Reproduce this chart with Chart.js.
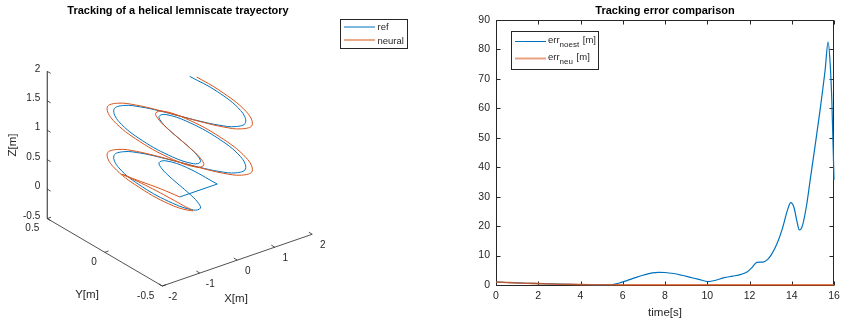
<!DOCTYPE html>
<html>
<head>
<meta charset="utf-8">
<script src="https://cdn.jsdelivr.net/npm/chart.js@4/dist/chart.umd.min.js"></script>
<style>
  html, body { margin: 0; padding: 0; background: #fff; }
  #wrap { position: relative; width: 841px; height: 325px; overflow: hidden; background: #fff; }
  #c3d { position: absolute; left: 0; top: 0; }
  #cerr { position: absolute; left: 420px; top: 0; }
</style>
</head>
<body>
<div id="wrap">
  <canvas id="c3d" width="420" height="325"></canvas>
  <canvas id="cerr" width="421" height="325"></canvas>
</div>
<script>
// ---------- 3-D trajectory samples (metres), one sample every 0.327 s ----------
// reference helical lemniscate (first entry is the origin the plot starts from)
const refX = [0,
  1, 0.905, 0.693, 0.471, 0.286, 0.134, 0, -0.134, -0.286, -0.471, -0.693, -0.905,
  -1, -0.905, -0.693, -0.471, -0.286, -0.134, 0, 0.134, 0.286, 0.471, 0.693, 0.905,
  1, 0.905, 0.693, 0.471, 0.286, 0.134, 0, -0.134, -0.286, -0.471, -0.693, -0.905,
  -1, -0.905, -0.693, -0.471, -0.286, -0.134, 0, 0.134, 0.286, 0.471, 0.693, 0.905,
  1, 0.923];
const refY = [0,
  0, 0.234, 0.346, 0.333, 0.247, 0.129, 0, -0.129, -0.247, -0.333, -0.346, -0.234,
  0, 0.234, 0.346, 0.333, 0.247, 0.129, 0, -0.129, -0.247, -0.333, -0.346, -0.234,
  0, 0.234, 0.346, 0.333, 0.247, 0.129, 0, -0.129, -0.247, -0.333, -0.346, -0.234,
  0, 0.234, 0.346, 0.333, 0.247, 0.129, 0, -0.129, -0.247, -0.333, -0.346, -0.234,
  0, 0.214];
const refZ = [0,
  0, 0.033, 0.065, 0.098, 0.131, 0.164, 0.196, 0.229, 0.262, 0.295, 0.327, 0.360,
  0.393, 0.425, 0.458, 0.491, 0.524, 0.556, 0.589, 0.622, 0.654, 0.687, 0.720, 0.753,
  0.785, 0.818, 0.851, 0.884, 0.916, 0.949, 0.982, 1.014, 1.047, 1.080, 1.113, 1.145,
  1.178, 1.211, 1.244, 1.276, 1.309, 1.342, 1.374, 1.407, 1.440, 1.473, 1.505, 1.538,
  1.571, 1.600];

// trajectory followed by the neural controller
const neuX = [0, -0.02, -0.06, -0.09, -0.10, -0.16, -0.25, -0.35, -0.45, -0.54, -0.63, -0.968,
  -1.07, -0.968, -0.742, -0.504, -0.306, -0.143, 0, 0.143, 0.306, 0.504, 0.742, 0.968,
  1.07, 0.968, 0.742, 0.504, 0.306, 0.143, 0, -0.143, -0.306, -0.504, -0.742, -0.968,
  -1.07, -0.968, -0.742, -0.504, -0.306, -0.143, 0, 0.143, 0.306, 0.504, 0.742, 0.968,
  1.07, 1.023];
const neuY = [0, 0.16, 0.32, 0.43, 0.47, 0.40, 0.25, 0.09, -0.07, -0.21, -0.32, -0.262,
  0, 0.262, 0.388, 0.373, 0.277, 0.144, 0, -0.144, -0.277, -0.373, -0.388, -0.262,
  0, 0.262, 0.388, 0.373, 0.277, 0.144, 0, -0.144, -0.277, -0.373, -0.388, -0.262,
  0, 0.262, 0.388, 0.373, 0.277, 0.144, 0, -0.144, -0.277, -0.373, -0.388, -0.262,
  0, 0.186];
const neuZ = [0, -0.04, -0.09, -0.12, -0.13, -0.08, 0, 0.08, 0.15, 0.21, 0.27, 0.360,
  0.393, 0.425, 0.458, 0.491, 0.524, 0.556, 0.589, 0.622, 0.654, 0.687, 0.720, 0.753,
  0.785, 0.818, 0.851, 0.884, 0.916, 0.949, 0.982, 1.014, 1.047, 1.080, 1.113, 1.145,
  1.178, 1.211, 1.244, 1.276, 1.309, 1.342, 1.374, 1.407, 1.440, 1.473, 1.505, 1.538,
  1.571, 1.600];

// 3-D axis ticks
const xTicks3d = [-2, -1, 0, 1, 2];
const yTicks3d = [-0.5, 0, 0.5];
const zTicks3d = [-0.5, 0, 0.5, 1, 1.5, 2];
const xTickLabels3d = ['-2', '-1', '0', '1', '2'];
const yTickLabels3d = ['-0.5', '0', '0.5'];
const zTickLabels3d = ['-0.5', '0', '0.5', '1', '1.5', '2'];

// ---------- tracking error (m) over time (s) ----------
const tNoest = [0, 0.5, 1, 1.5, 2, 2.5, 3, 3.5, 4, 4.5, 5, 5.4, 5.8, 6.2, 6.6, 7, 7.4, 7.7, 8,
  8.4, 8.8, 9.2, 9.6, 10.05, 10.4, 10.8, 11.2, 11.6, 11.9, 12.1, 12.35, 12.65, 12.85, 13.05,
  13.3, 13.55, 13.8, 13.95, 14.1, 14.25, 14.36, 14.5, 14.7, 14.86, 15.1, 15.34, 15.58, 15.72,
  15.82, 15.9, 16];
const errNoest = [1.0, 0.85, 0.72, 0.6, 0.5, 0.4, 0.3, 0.22, 0.15, 0.08, 0.04, 0.05, 0.6, 1.5,
  2.5, 3.4, 4.1, 4.3, 4.25, 3.9, 3.3, 2.6, 1.9, 1.15, 1.6, 2.5, 3.0, 3.6, 4.5, 5.8, 7.7, 7.8,
  8.6, 10.5, 14, 19, 25.5, 28, 26.5, 21.5, 18.7, 20, 27, 35, 47, 59.4, 73, 82.5, 75, 62, 35.7];
const tNeu = [0, 0.5, 1, 1.5, 2, 2.5, 3, 3.5, 4, 4.5, 5, 6, 8, 10, 12, 14, 16];
const errNeu = [1.0, 0.85, 0.7, 0.58, 0.46, 0.36, 0.27, 0.2, 0.14, 0.1, 0.07, 0.05, 0.05,
  0.05, 0.05, 0.05, 0.05];
const timeTicks = [0, 2, 4, 6, 8, 10, 12, 14, 16];
const errTicks = [0, 10, 20, 30, 40, 50, 60, 70, 80, 90];

// ---------- common styling ----------
const FONT = "'Liberation Sans', Arial, Helvetica, sans-serif";
const INK = '#262626';
const BLUE = '#0072BD';
const ORANGE = '#D95319';
Chart.defaults.font.family = FONT;
Chart.defaults.color = INK;

// Orthographic view of the normalised axis box (azimuth -37.5 deg, elevation 30 deg)
const LIM = { x: [-2, 2], y: [-0.5, 0.5], z: [-0.5, 2] };
const AZ = -37.5 * Math.PI / 180, EL = 30 * Math.PI / 180;
function project(X, Y, Z) {
  const xn = (X - LIM.x[0]) / (LIM.x[1] - LIM.x[0]);
  const yn = (Y - LIM.y[0]) / (LIM.y[1] - LIM.y[0]);
  const zn = (Z - LIM.z[0]) / (LIM.z[1] - LIM.z[0]);
  return {
    x: Math.cos(AZ) * xn + Math.sin(AZ) * yn,
    y: Math.sin(EL) * (-Math.sin(AZ) * xn + Math.cos(AZ) * yn) + Math.cos(EL) * zn
  };
}
const refPts = refX.map((x, i) => project(x, refY[i], refZ[i]));
const neuPts = neuX.map((x, i) => project(x, neuY[i], neuZ[i]));

function seg(ctx, a, b) { ctx.beginPath(); ctx.moveTo(a[0], a[1]); ctx.lineTo(b[0], b[1]); ctx.stroke(); }

// draws the 3-D axis lines, ticks, labels, title and legend
const axes3d = {
  id: 'axes3d',
  beforeDatasetsDraw(chart) {
    const ctx = chart.ctx, sx = chart.scales.x, sy = chart.scales.y;
    const P = (X, Y, Z) => { const p = project(X, Y, Z); return [sx.getPixelForValue(p.x), sy.getPixelForValue(p.y)]; };
    ctx.save();
    ctx.strokeStyle = INK;
    ctx.lineWidth = 0.8;
    seg(ctx, P(LIM.x[0], LIM.y[0], LIM.z[0]), P(LIM.x[1], LIM.y[0], LIM.z[0]));
    seg(ctx, P(LIM.x[0], LIM.y[0], LIM.z[0]), P(LIM.x[0], LIM.y[1], LIM.z[0]));
    ctx.lineWidth = 1;
    seg(ctx, P(LIM.x[0], LIM.y[1], LIM.z[0]), P(LIM.x[0], LIM.y[1], LIM.z[1]));

    ctx.lineWidth = 0.8;
    ctx.fillStyle = INK;
    ctx.font = '10px ' + FONT;
    ctx.textBaseline = 'middle';
    // X ticks
    ctx.textAlign = 'center';
    xTicks3d.forEach((v, i) => {
      const a = P(v, LIM.y[0], LIM.z[0]);
      seg(ctx, a, P(v, LIM.y[0] + 0.03, LIM.z[0]));
      ctx.fillText(xTickLabels3d[i], a[0] + 10.5, a[1] + 11);
    });
    // Y ticks
    ctx.textAlign = 'right';
    yTicks3d.forEach((v, i) => {
      const a = P(LIM.x[0], v, LIM.z[0]);
      seg(ctx, a, P(LIM.x[0] + 0.1, v, LIM.z[0]));
      ctx.fillText(yTickLabels3d[i], a[0] - 8, a[1] + 10);
    });
    // Z ticks
    zTicks3d.forEach((v, i) => {
      const a = P(LIM.x[0], LIM.y[1], v);
      seg(ctx, a, P(LIM.x[0], LIM.y[1] - 0.03, v));
      ctx.fillText(zTickLabels3d[i], a[0] - 7, a[1] - 2.5);
    });
    // axis names
    ctx.font = '11.5px ' + FONT;
    ctx.textAlign = 'center';
    ctx.fillText('X[m]', 236, 299);
    ctx.fillText('Y[m]', 87, 295);
    ctx.save();
    ctx.translate(13, 145);
    ctx.rotate(-Math.PI / 2);
    ctx.fillText('Z[m]', 0, 0);
    ctx.restore();
    // title
    ctx.fillStyle = '#000';
    ctx.font = 'bold 11px ' + FONT;
    ctx.fillText('Tracking of a helical lemniscate trayectory', 178, 11);
    ctx.restore();
  },
  afterDraw(chart) {
    const ctx = chart.ctx;
    ctx.save();
    ctx.fillStyle = '#fff';
    ctx.fillRect(340.5, 19.5, 67, 29);
    ctx.strokeStyle = INK;
    ctx.lineWidth = 1;
    ctx.strokeRect(340.5, 19.5, 67, 29);
    ctx.lineWidth = 1;
    ctx.strokeStyle = BLUE; seg(ctx, [344, 27], [375, 27]);
    ctx.strokeStyle = ORANGE; seg(ctx, [344, 40], [375, 40]);
    ctx.fillStyle = INK;
    ctx.font = '9.5px ' + FONT;
    ctx.textAlign = 'left';
    ctx.textBaseline = 'middle';
    ctx.fillText('ref', 377.5, 27.5);
    ctx.fillText('neural', 377.5, 41);
    ctx.restore();
  }
};

new Chart(document.getElementById('c3d'), {
  type: 'scatter',
  data: {
    datasets: [
      { label: 'neural', data: neuPts, showLine: true, borderColor: ORANGE, borderWidth: 1,
        pointRadius: 0, tension: 0.4, order: 0 },
      { label: 'ref', data: refPts.slice(1), showLine: true, borderColor: BLUE, borderWidth: 1,
        pointRadius: 0, tension: 0.4, order: 1 },
      { label: 'ref start', data: refPts.slice(0, 2), showLine: true, borderColor: BLUE, borderWidth: 1,
        pointRadius: 0, tension: 0, order: 1 }
    ]
  },
  options: {
    responsive: false, animation: false, events: [], devicePixelRatio: 1,
    layout: { padding: 0 },
    plugins: { legend: { display: false }, tooltip: { enabled: false }, title: { display: false } },
    scales: {
      x: { type: 'linear', display: false, min: -0.8587, max: 1.3635 },
      y: { type: 'linear', display: false, min: -0.2294, max: 1.6824 }
    }
  },
  plugins: [axes3d]
});

// ---------- tracking error chart ----------
const boxTicks = {
  id: 'boxTicks',
  beforeDatasetsDraw(chart) {
    const ctx = chart.ctx, a = chart.chartArea, sx = chart.scales.x, sy = chart.scales.y;
    const L = Math.round(a.left) + 0.5, R = Math.round(a.right) - 0.5;
    const T = Math.round(a.top) + 0.5, B = Math.round(a.bottom) + 0.5;
    ctx.save();
    ctx.strokeStyle = INK;
    ctx.lineWidth = 1;
    ctx.strokeRect(L, T, R - L, B - T);
    const tl = 4;
    timeTicks.forEach(v => {
      const x = Math.round(sx.getPixelForValue(v)) + 0.5;
      seg(ctx, [x, B], [x, B - tl]);
      seg(ctx, [x, T], [x, T + tl]);
    });
    errTicks.forEach(v => {
      const y = Math.round(sy.getPixelForValue(v)) + 0.5;
      seg(ctx, [L, y], [L + tl, y]);
      seg(ctx, [R, y], [R - tl, y]);
    });
    ctx.restore();
  },
  afterDraw(chart) {
    const ctx = chart.ctx;
    ctx.save();
    ctx.fillStyle = '#000';
    ctx.font = 'bold 11px ' + FONT;
    ctx.textAlign = 'center';
    ctx.textBaseline = 'middle';
    ctx.fillText('Tracking error comparison', (chart.chartArea.left + chart.chartArea.right) / 2, 10.5);
    // legend
    ctx.fillStyle = '#fff';
    ctx.fillRect(91.5, 31.5, 87, 38);
    ctx.strokeStyle = INK;
    ctx.lineWidth = 1;
    ctx.strokeRect(91.5, 31.5, 87, 38);
    ctx.strokeStyle = BLUE; ctx.lineWidth = 1; seg(ctx, [95, 41.5], [126, 41.5]);
    ctx.strokeStyle = 'rgba(217,83,25,0.55)'; ctx.lineWidth = 2; seg(ctx, [95, 58.5], [126, 58.5]);
    ctx.fillStyle = INK;
    ctx.textAlign = 'left';
    const rows = [['noest', 40.5], ['neu', 57.5]];
    rows.forEach(([sub, y]) => {
      let x = 128;
      ctx.font = '9.5px ' + FONT;
      ctx.fillText('err', x, y);
      x += ctx.measureText('err').width;
      ctx.font = '8px ' + FONT;
      ctx.fillText(sub, x, y + 4);
      x += ctx.measureText(sub).width;
      ctx.font = '9.5px ' + FONT;
      ctx.fillText(' [m]', x + 1, y);
    });
    ctx.restore();
  }
};

new Chart(document.getElementById('cerr'), {
  type: 'line',
  data: {
    datasets: [
      { label: 'err_noest', data: tNoest.map((t, i) => ({ x: t, y: errNoest[i] })),
        borderColor: BLUE, borderWidth: 1.2, pointRadius: 0, cubicInterpolationMode: 'monotone',
        order: 1, clip: false },
      { label: 'err_neu', data: tNeu.map((t, i) => ({ x: t, y: errNeu[i] })),
        borderColor: 'rgba(217,83,25,0.8)', borderWidth: 1.6, pointRadius: 0,
        cubicInterpolationMode: 'monotone', order: 0, clip: false }
    ]
  },
  options: {
    responsive: false, animation: false, events: [], devicePixelRatio: 1,
    layout: { padding: { top: 20, right: 7, left: 0, bottom: 0 } },
    plugins: { legend: { display: false }, tooltip: { enabled: false }, title: { display: false } },
    scales: {
      x: {
        type: 'linear', min: 0, max: 16,
        afterBuildTicks: s => { s.ticks = timeTicks.map(v => ({ value: v })); },
        ticks: { color: INK, font: { size: 10.5 }, padding: 5, maxRotation: 0, autoSkip: false },
        grid: { display: false, drawTicks: false },
        border: { display: false },
        title: { display: true, text: 'time[s]', color: INK, font: { size: 11.5 }, padding: { top: 0, bottom: 5.4 } },
        afterFit: s => { s.height = 40; s.paddingLeft = 0; s.paddingRight = 0; }
      },
      y: {
        type: 'linear', min: 0, max: 90,
        afterBuildTicks: s => { s.ticks = errTicks.map(v => ({ value: v })); },
        ticks: { color: INK, font: { size: 10.5 }, padding: 6, autoSkip: false },
        grid: { display: false, drawTicks: false },
        border: { display: false },
        afterFit: s => { s.width = 76; s.paddingTop = 0; s.paddingBottom = 0; }
      }
    }
  },
  plugins: [boxTicks]
});
</script>
</body>
</html>
